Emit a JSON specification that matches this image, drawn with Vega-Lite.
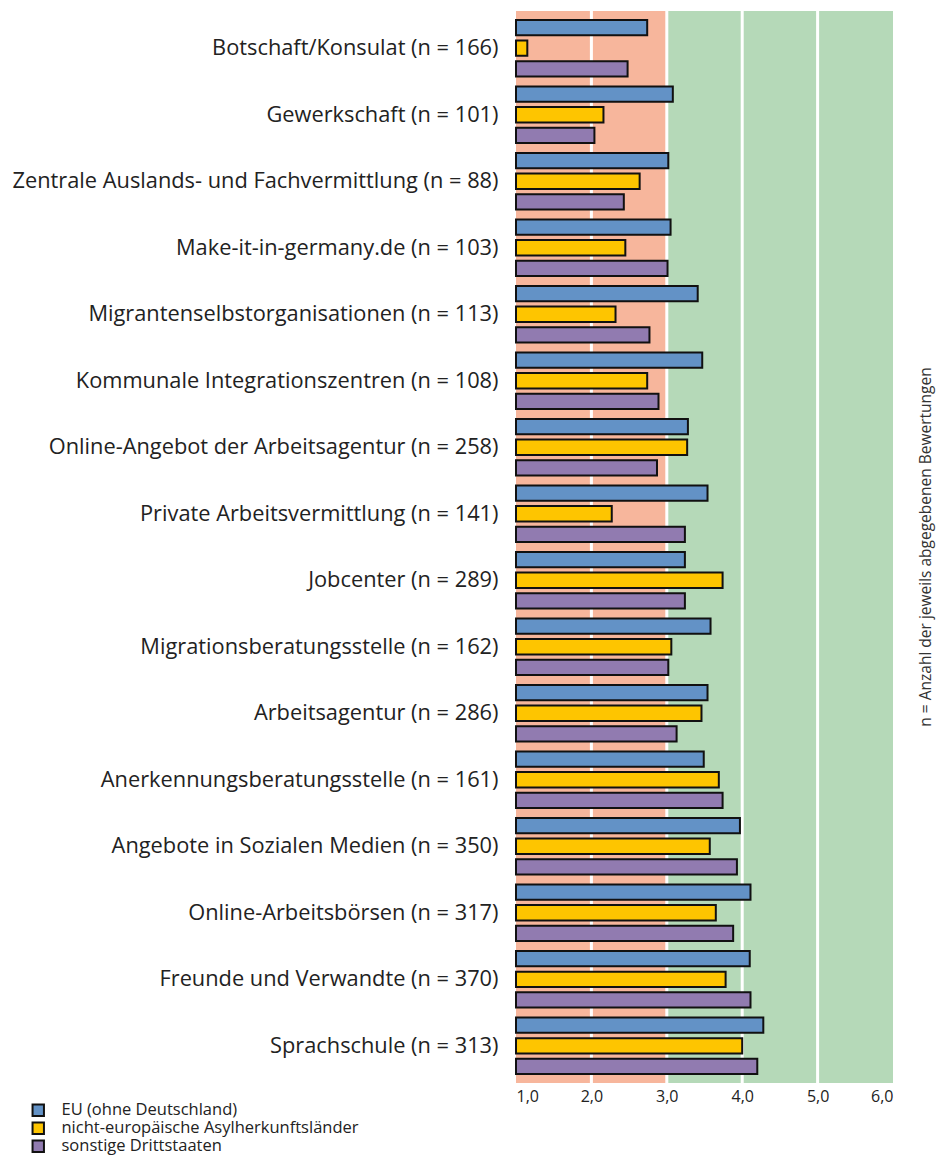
{
  "$schema": "https://vega.github.io/schema/vega-lite/v6.json",
  "autosize": "none",
  "width": 377,
  "height": 1072,
  "padding": {"left": 516, "top": 11, "right": 43, "bottom": 77},
  "background": "white",
  "config": {"view": {"stroke": null}, "font": "Open Sans"},
  "title": {"text": "n = Anzahl der jeweils abgegebenen Bewertungen", "orient": "right", "angle": -90, "anchor": "middle", "fontSize": 15.5, "fontWeight": "normal", "color": "#333333", "offset": 10},
  "datasets": {
    "bands": [{"von": 1, "bis": 3, "zone": "niedrig"}, {"von": 3, "bis": 6, "zone": "hoch"}],
    "grid": [{"g": 2}, {"g": 3}, {"g": 4}, {"g": 5}],
    "bars": [
      {"cat": "Botschaft/Konsulat (n = 166)", "grp": "EU (ohne Deutschland)", "v": 2.74},
      {"cat": "Botschaft/Konsulat (n = 166)", "grp": "nicht-europäische Asylherkunftsländer", "v": 1.15},
      {"cat": "Botschaft/Konsulat (n = 166)", "grp": "sonstige Drittstaaten", "v": 2.48},
      {"cat": "Gewerkschaft (n = 101)", "grp": "EU (ohne Deutschland)", "v": 3.08},
      {"cat": "Gewerkschaft (n = 101)", "grp": "nicht-europäische Asylherkunftsländer", "v": 2.16},
      {"cat": "Gewerkschaft (n = 101)", "grp": "sonstige Drittstaaten", "v": 2.04},
      {"cat": "Zentrale Auslands- und Fachvermittlung (n = 88)", "grp": "EU (ohne Deutschland)", "v": 3.02},
      {"cat": "Zentrale Auslands- und Fachvermittlung (n = 88)", "grp": "nicht-europäische Asylherkunftsländer", "v": 2.64},
      {"cat": "Zentrale Auslands- und Fachvermittlung (n = 88)", "grp": "sonstige Drittstaaten", "v": 2.43},
      {"cat": "Make-it-in-germany.de (n = 103)", "grp": "EU (ohne Deutschland)", "v": 3.05},
      {"cat": "Make-it-in-germany.de (n = 103)", "grp": "nicht-europäische Asylherkunftsländer", "v": 2.45},
      {"cat": "Make-it-in-germany.de (n = 103)", "grp": "sonstige Drittstaaten", "v": 3.01},
      {"cat": "Migrantenselbstorganisationen (n = 113)", "grp": "EU (ohne Deutschland)", "v": 3.41},
      {"cat": "Migrantenselbstorganisationen (n = 113)", "grp": "nicht-europäische Asylherkunftsländer", "v": 2.32},
      {"cat": "Migrantenselbstorganisationen (n = 113)", "grp": "sonstige Drittstaaten", "v": 2.77},
      {"cat": "Kommunale Integrationszentren (n = 108)", "grp": "EU (ohne Deutschland)", "v": 3.47},
      {"cat": "Kommunale Integrationszentren (n = 108)", "grp": "nicht-europäische Asylherkunftsländer", "v": 2.74},
      {"cat": "Kommunale Integrationszentren (n = 108)", "grp": "sonstige Drittstaaten", "v": 2.89},
      {"cat": "Online-Angebot der Arbeitsagentur (n = 258)", "grp": "EU (ohne Deutschland)", "v": 3.28},
      {"cat": "Online-Angebot der Arbeitsagentur (n = 258)", "grp": "nicht-europäische Asylherkunftsländer", "v": 3.27},
      {"cat": "Online-Angebot der Arbeitsagentur (n = 258)", "grp": "sonstige Drittstaaten", "v": 2.87},
      {"cat": "Private Arbeitsvermittlung (n = 141)", "grp": "EU (ohne Deutschland)", "v": 3.54},
      {"cat": "Private Arbeitsvermittlung (n = 141)", "grp": "nicht-europäische Asylherkunftsländer", "v": 2.27},
      {"cat": "Private Arbeitsvermittlung (n = 141)", "grp": "sonstige Drittstaaten", "v": 3.24},
      {"cat": "Jobcenter (n = 289)", "grp": "EU (ohne Deutschland)", "v": 3.24},
      {"cat": "Jobcenter (n = 289)", "grp": "nicht-europäische Asylherkunftsländer", "v": 3.74},
      {"cat": "Jobcenter (n = 289)", "grp": "sonstige Drittstaaten", "v": 3.24},
      {"cat": "Migrationsberatungsstelle (n = 162)", "grp": "EU (ohne Deutschland)", "v": 3.58},
      {"cat": "Migrationsberatungsstelle (n = 162)", "grp": "nicht-europäische Asylherkunftsländer", "v": 3.06},
      {"cat": "Migrationsberatungsstelle (n = 162)", "grp": "sonstige Drittstaaten", "v": 3.02},
      {"cat": "Arbeitsagentur (n = 286)", "grp": "EU (ohne Deutschland)", "v": 3.54},
      {"cat": "Arbeitsagentur (n = 286)", "grp": "nicht-europäische Asylherkunftsländer", "v": 3.46},
      {"cat": "Arbeitsagentur (n = 286)", "grp": "sonstige Drittstaaten", "v": 3.13},
      {"cat": "Anerkennungsberatungsstelle (n = 161)", "grp": "EU (ohne Deutschland)", "v": 3.49},
      {"cat": "Anerkennungsberatungsstelle (n = 161)", "grp": "nicht-europäische Asylherkunftsländer", "v": 3.69},
      {"cat": "Anerkennungsberatungsstelle (n = 161)", "grp": "sonstige Drittstaaten", "v": 3.74},
      {"cat": "Angebote in Sozialen Medien (n = 350)", "grp": "EU (ohne Deutschland)", "v": 3.97},
      {"cat": "Angebote in Sozialen Medien (n = 350)", "grp": "nicht-europäische Asylherkunftsländer", "v": 3.57},
      {"cat": "Angebote in Sozialen Medien (n = 350)", "grp": "sonstige Drittstaaten", "v": 3.93},
      {"cat": "Online-Arbeitsbörsen (n = 317)", "grp": "EU (ohne Deutschland)", "v": 4.11},
      {"cat": "Online-Arbeitsbörsen (n = 317)", "grp": "nicht-europäische Asylherkunftsländer", "v": 3.65},
      {"cat": "Online-Arbeitsbörsen (n = 317)", "grp": "sonstige Drittstaaten", "v": 3.88},
      {"cat": "Freunde und Verwandte (n = 370)", "grp": "EU (ohne Deutschland)", "v": 4.1},
      {"cat": "Freunde und Verwandte (n = 370)", "grp": "nicht-europäische Asylherkunftsländer", "v": 3.78},
      {"cat": "Freunde und Verwandte (n = 370)", "grp": "sonstige Drittstaaten", "v": 4.11},
      {"cat": "Sprachschule (n = 313)", "grp": "EU (ohne Deutschland)", "v": 4.28},
      {"cat": "Sprachschule (n = 313)", "grp": "nicht-europäische Asylherkunftsländer", "v": 4.0},
      {"cat": "Sprachschule (n = 313)", "grp": "sonstige Drittstaaten", "v": 4.2}
    ]
  },
  "layer": [
    {
      "data": {"name": "bands"},
      "mark": {"type": "rect"},
      "encoding": {
        "x": {"field": "von", "type": "quantitative", "scale": {"domain": [1, 6], "nice": false, "zero": false}},
        "x2": {"field": "bis"},
        "fill": {"field": "zone", "type": "nominal", "scale": {"domain": ["niedrig", "hoch"], "range": ["#F7B69C", "#B5D9B8"]}, "legend": null}
      }
    },
    {
      "data": {"name": "grid"},
      "mark": {"type": "rule", "color": "white", "strokeWidth": 3},
      "encoding": {
        "x": {"field": "g", "type": "quantitative"}
      }
    },
    {
      "data": {"name": "bars"},
      "mark": {"type": "bar", "stroke": "#111111", "strokeWidth": 2},
      "encoding": {
        "y": {"field": "cat", "type": "nominal", "sort": null, "scale": {"paddingInner": 0.15, "paddingOuter": 0.135},
          "axis": {"title": null, "ticks": false, "domain": false, "labelFontSize": 21.8, "labelColor": "#222222", "labelPadding": 18, "labelLimit": 600}},
        "yOffset": {"field": "grp", "type": "nominal", "sort": ["EU (ohne Deutschland)", "nicht-europäische Asylherkunftsländer", "sonstige Drittstaaten"], "scale": {"paddingInner": 0.26, "paddingOuter": 0}},
        "x": {"field": "v", "type": "quantitative", "scale": {"domain": [1, 6], "nice": false, "zero": false},
          "axis": {"title": null, "values": [1, 2, 3, 4, 5, 6], "ticks": false, "domain": false, "grid": false, "labelFontSize": 16, "labelColor": "#222222", "labelPadding": 5, "labelExpr": "replace(format(datum.value, '.1f'), '.', ',')"}},
        "x2": {"datum": 1},
        "color": {"field": "grp", "type": "nominal",
          "scale": {"domain": ["EU (ohne Deutschland)", "nicht-europäische Asylherkunftsländer", "sonstige Drittstaaten"], "range": ["#6392C6", "#FEC500", "#917BB0"]},
          "legend": {"title": null, "orient": "none", "legendX": -486, "legendY": 1091, "symbolType": "square", "symbolSize": 130, "symbolStrokeColor": "#111111", "symbolStrokeWidth": 2, "symbolOpacity": 1, "labelFontSize": 16.5, "labelColor": "#222222", "rowPadding": -8, "labelOffset": 15, "labelLimit": 500}
        }
      }
    }
  ],
  "resolve": {"scale": {"color": "independent"}}
}
